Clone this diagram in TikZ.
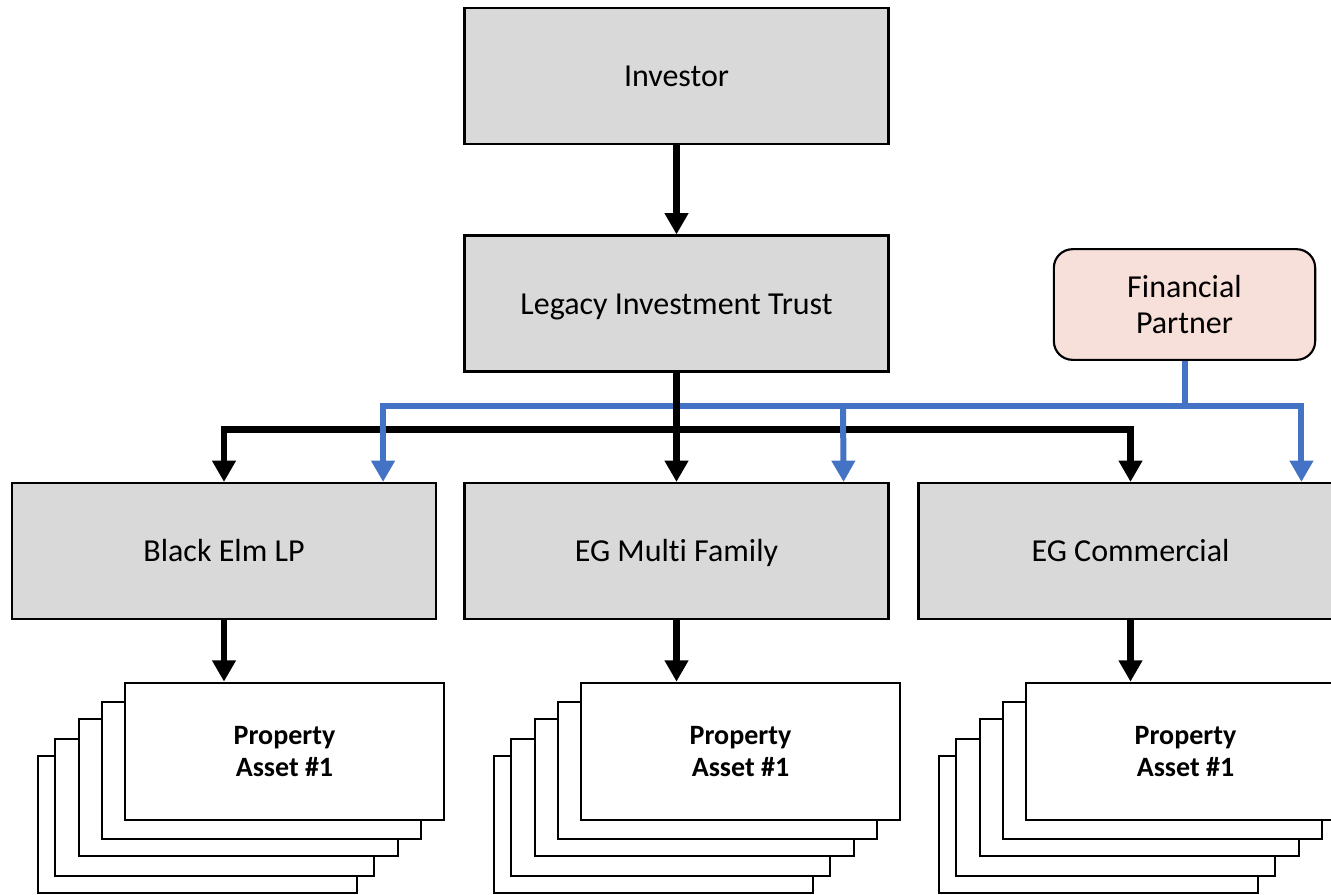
\documentclass[tikz,border=0pt]{standalone}
\usepackage{fontspec}
\setmainfont{Carlito}[Ligatures=NoCommon]
\usetikzlibrary{arrows.meta,calc}

\definecolor{boxgray}{RGB}{217,217,217}
\definecolor{partnerpink}{RGB}{248,224,218}
\definecolor{feedblue}{RGB}{68,114,196}

\begin{document}
\begin{tikzpicture}[x=0.75pt, y=-0.75pt,
    entity/.style={draw, line width=1.6pt, fill=boxgray, minimum width=318pt, minimum height=102pt, text height=20pt, text depth=4pt, font=\fontsize{24}{27}\selectfont},
    holding/.style={draw, line width=1.8pt, fill=white, minimum width=239pt, minimum height=103pt, align=center, font=\bfseries\fontsize{21}{24}\selectfont},
    partnerbox/.style={draw, line width=1.6pt, fill=partnerpink, rounded corners=14pt, minimum width=196pt, minimum height=83pt, align=center, font=\fontsize{24}{27}\selectfont},
    flow/.style={line width=5pt, -{Triangle[length=16pt,width=17pt]}},
    feed/.style={line width=4.5pt, feedblue, -{Triangle[length=16pt,width=17pt]}}]

    \useasboundingbox (0,0) rectangle (1331,894);

    % Top of the structure
    \node[entity] (investor) at (676.5,76) {Investor};
    \node[entity] (trust) at (676.5,303.5) {Legacy Investment Trust};
    \node[partnerbox] (partner) at (1184.5,304.5) {Financial\\Partner};

    % Operating entities
    \node[entity] (blackelm) at (224,551) {Black Elm LP};
    \node[entity] (multifamily) at (676.5,551) {EG Multi Family};
    \node[entity] (commercial) at (1130.5,551) {EG Commercial};

    % Stacked property assets (back sheets first)
    \foreach \cx/\nm in {284.5/asset1, 740.5/asset2, 1185.5/asset3} {
        \foreach \dx/\dy [count=\k] in {-87/73, -70/56, -46/36, -23/19}
            \node[holding] (\nm-\k) at (\cx+\dx,751.5+\dy) {};
        \node[holding] (\nm) at (\cx,751.5) {Property\\Asset \#1};
    }

    % Ownership arrows
    \draw[flow] (investor) -- (trust);
    \path (trust.south) ++(0,57) coordinate (bus);
    \draw[flow] (bus) -| (blackelm.north);
    \draw[flow] (bus) -| (commercial.north);

    % Financing lines
    \path (partner.south) ++(0,45) coordinate (fed);
    \draw[line width=4.5pt, feedblue] (partner.south) -- (fed);
    \draw[feed] (fed) -| ($(blackelm.north east)+(-54,0)$);
    \draw[feed] (fed) -| ($(commercial.north west)+(384,0)$);
    \draw[feed] (fed -| 843,0) -- ($(multifamily.north east)+(-46,0)$);

    \draw[flow] (trust) -- (multifamily);

    % Entities to their assets
    \draw[flow] (blackelm) -- (blackelm.south |- asset1.north);
    \draw[flow] (multifamily) -- (multifamily.south |- asset2.north);
    \draw[flow] (commercial) -- (commercial.south |- asset3.north);
\end{tikzpicture}
\end{document}
